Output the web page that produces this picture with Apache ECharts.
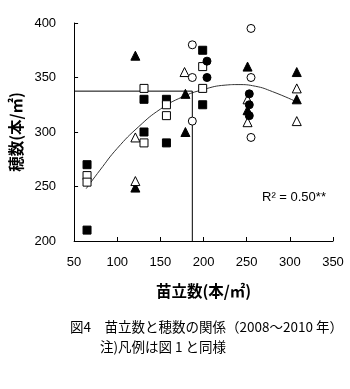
<!DOCTYPE html>
<html>
<head>
<meta charset="utf-8">
<script src="https://cdn.jsdelivr.net/npm/echarts@6/dist/echarts.min.js"></script>
<style>html,body{margin:0;padding:0;background:#fff;}#c{width:350px;height:389px;}</style>
</head>
<body>
<div id="c"></div>
<script>
// Data
var filledSquare = [[65,270],[65,210],[131,330],[131,300],[157,330],[157,290],[199,375],[199,325]];
var openSquare = [[65,260],[65,254],[131,340],[131,290],[157,325],[157,315],[199,360],[199,340]];
var filledTriangle = [[121,370],[121,249],[179,300],[179,335],[251,360],[251,320],[308,355],[308,330]];
var openTriangle = [[121,295],[121,255],[178,355],[251,330],[251,309],[308,340],[308,310]];
var openCircle = [[187,380],[187,350],[187,310],[255,395],[255,350],[255,295]];
var filledCircle = [[204,365],[204,350],[253,335],[253,325],[253,315]];
var fitCurve = [[64,248],[80,265],[100,285],[125,305],[150,321],[175,332],[200,339],[225,343],[240,343.5],[260,342],[280,337],[307,328]];
var refLines = [[50,337.5],[187,337.5],[187,200]];
var xTicks = {min:50, max:350, interval:50};
var yTicks = {min:200, max:400, interval:50};

var chart = echarts.init(document.getElementById('c'), null, {renderer:'canvas'});
function sc(name, data, symbol, filled, size){
  return {name:name, type:'scatter', data:data, symbol:symbol, symbolSize:size,
    itemStyle:{color: filled ? '#000' : '#fff', borderColor:'#000', borderWidth:1, opacity:1},
    z:3, animation:false};
}
var option = {
  animation:false,
  grid:{left:73, right:17, top:23, bottom:148},
  xAxis:{type:'value', min:xTicks.min, max:xTicks.max, interval:xTicks.interval,
    name:'苗立数(本/㎡)', nameLocation:'middle', nameGap:42,
    nameTextStyle:{fontFamily:'Noto Sans CJK JP', fontWeight:'bold', fontSize:15.5, color:'#000'},
    axisLine:{lineStyle:{color:'#000', width:1}},
    axisTick:{inside:true, length:4, lineStyle:{color:'#000'}},
    axisLabel:{fontFamily:'Liberation Sans', fontSize:13, color:'#000', margin:15},
    splitLine:{show:false}},
  yAxis:{type:'value', min:yTicks.min, max:yTicks.max, interval:yTicks.interval,
    name:'穂数(本/㎡)', nameLocation:'middle', nameGap:50, nameRotate:90,
    nameTextStyle:{fontFamily:'Noto Sans CJK JP', fontWeight:'bold', fontSize:15.5, color:'#000'},
    axisLine:{show:true, lineStyle:{color:'#000', width:1}},
    axisTick:{show:true, inside:true, length:4, lineStyle:{color:'#000'}},
    axisLabel:{fontFamily:'Liberation Sans', fontSize:13, color:'#000', margin:18},
    splitLine:{show:false}},
  series:[
    {type:'line', data:fitCurve, smooth:true, symbol:'none', lineStyle:{color:'#333', width:1}, z:2, animation:false},
    {type:'line', data:refLines, smooth:false, symbol:'none', lineStyle:{color:'#000', width:1}, z:2, animation:false},
    sc('fs', filledSquare, 'rect', true, 8),
    sc('os', openSquare, 'rect', false, 8),
    sc('ft', filledTriangle, 'triangle', true, 9),
    sc('ot', openTriangle, 'triangle', false, 9),
    sc('oc', openCircle, 'circle', false, 8),
    sc('fc', filledCircle, 'circle', true, 8)
  ],
  graphic:[
    {type:'text', left:262, top:191, style:{text:'R² = 0.50**', font:'13px "Liberation Sans"', fill:'#000'}},
    {type:'text', left:70, top:320, style:{text:'図4　苗立数と穂数の関係（2008～2010 年）', font:'13.5px "Noto Sans CJK JP"', fill:'#000'}},
    {type:'text', left:100, top:340, style:{text:'注)凡例は図 1 と同様', font:'13.5px "Noto Sans CJK JP"', fill:'#000'}}
  ]
};
chart.setOption(option);
</script>
</body>
</html>
